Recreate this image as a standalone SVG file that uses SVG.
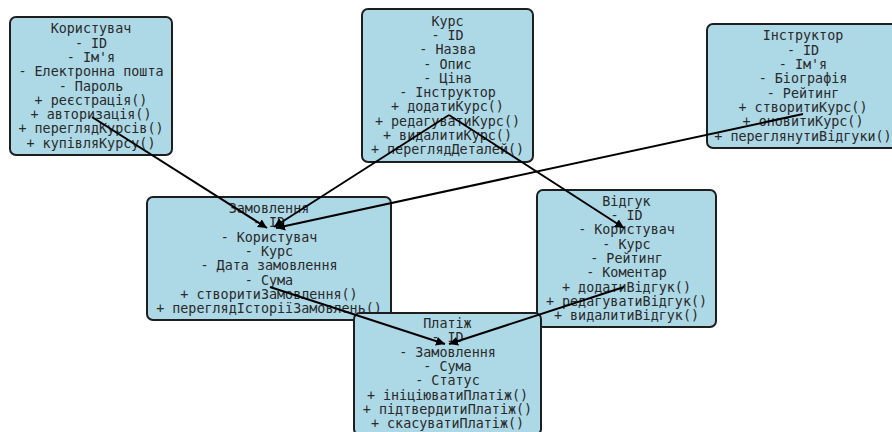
<svg xmlns="http://www.w3.org/2000/svg" width="892" height="432" viewBox="0 0 892 432">
<defs>
<style>
.box{fill:#add8e6;stroke:#1e1e1e;stroke-width:2}
.t{font-family:"DejaVu Sans Mono","Liberation Mono",monospace;font-size:13.4px;fill:#2a2a2a;text-anchor:middle}
.c{stroke:#000;stroke-width:2;fill:none;marker-end:url(#ah)}
</style>
<marker id="ah" viewBox="0 0 10 10" refX="10" refY="5" markerWidth="4.5" markerHeight="4.5" orient="auto" markerUnits="strokeWidth">
<path d="M0,0 L10,5 L0,10 z" fill="#000"/>
</marker>
</defs>
<rect width="892" height="432" fill="#fff"/>
<g id="korystuvach">
<rect class="box" x="10" y="17" width="162" height="138" rx="6"/>
<text class="t" y="33.3"><tspan x="91">Користувач</tspan><tspan x="91" dy="14.3">- ID</tspan><tspan x="91" dy="14.3">- Ім'я</tspan><tspan x="91" dy="14.3">- Електронна пошта</tspan><tspan x="91" dy="14.3">- Пароль</tspan><tspan x="91" dy="14.3">+ реєстрація()</tspan><tspan x="91" dy="14.3">+ авторизація()</tspan><tspan x="91" dy="14.3">+ переглядКурсів()</tspan><tspan x="91" dy="14.3">+ купівляКурсу()</tspan></text>
</g>
<g id="kurs">
<rect class="box" x="362" y="9" width="171" height="153" rx="6"/>
<text class="t" y="25.6"><tspan x="447.5">Курс</tspan><tspan x="447.5" dy="14.3">- ID</tspan><tspan x="447.5" dy="14.3">- Назва</tspan><tspan x="447.5" dy="14.3">- Опис</tspan><tspan x="447.5" dy="14.3">- Ціна</tspan><tspan x="447.5" dy="14.3">- Інструктор</tspan><tspan x="447.5" dy="14.3">+ додатиКурс()</tspan><tspan x="447.5" dy="14.3">+ редагуватиКурс()</tspan><tspan x="447.5" dy="14.3">+ видалитиКурс()</tspan><tspan x="447.5" dy="14.3">+ переглядДеталей()</tspan></text>
</g>
<g id="instruktor">
<rect class="box" x="707" y="24" width="190" height="124" rx="6"/>
<text class="t" y="40.4"><tspan x="803">Інструктор</tspan><tspan x="803" dy="14.3">- ID</tspan><tspan x="803" dy="14.3">- Ім'я</tspan><tspan x="803" dy="14.3">- Біографія</tspan><tspan x="803" dy="14.3">- Рейтинг</tspan><tspan x="803" dy="14.3">+ створитиКурс()</tspan><tspan x="803" dy="14.3">+ оновитиКурс()</tspan><tspan x="803" dy="14.3">+ переглянутиВідгуки()</tspan></text>
</g>
<g id="zamovlennia">
<rect class="box" x="147" y="197" width="244" height="123" rx="6"/>
<text class="t" y="213"><tspan x="269">Замовлення</tspan><tspan x="269" dy="14.3">- ID</tspan><tspan x="269" dy="14.3">- Користувач</tspan><tspan x="269" dy="14.3">- Курс</tspan><tspan x="269" dy="14.3">- Дата замовлення</tspan><tspan x="269" dy="14.3">- Сума</tspan><tspan x="269" dy="14.3">+ створитиЗамовлення()</tspan><tspan x="269" dy="14.3">+ переглядІсторіїЗамовлень()</tspan></text>
</g>
<g id="vidhuk">
<rect class="box" x="537" y="190" width="179" height="137" rx="6"/>
<text class="t" y="205.8"><tspan x="626.5">Відгук</tspan><tspan x="626.5" dy="14.3">- ID</tspan><tspan x="626.5" dy="14.3">- Користувач</tspan><tspan x="626.5" dy="14.3">- Курс</tspan><tspan x="626.5" dy="14.3">- Рейтинг</tspan><tspan x="626.5" dy="14.3">- Коментар</tspan><tspan x="626.5" dy="14.3">+ додатиВідгук()</tspan><tspan x="626.5" dy="14.3">+ редагуватиВідгук()</tspan><tspan x="626.5" dy="14.3">+ видалитиВідгук()</tspan></text>
</g>
<g id="platizh">
<rect class="box" x="354" y="313" width="187" height="122" rx="6"/>
<text class="t" y="328"><tspan x="447.5">Платіж</tspan><tspan x="447.5" dy="14.3">- ID</tspan><tspan x="447.5" dy="14.3">- Замовлення</tspan><tspan x="447.5" dy="14.3">- Сума</tspan><tspan x="447.5" dy="14.3">- Статус</tspan><tspan x="447.5" dy="14.3">+ ініціюватиПлатіж()</tspan><tspan x="447.5" dy="14.3">+ підтвердитиПлатіж()</tspan><tspan x="447.5" dy="14.3">+ скасуватиПлатіж()</tspan></text>
</g>
<g id="connectors">
<line class="c" x1="92" y1="117" x2="267" y2="228"/>
<line class="c" x1="449" y1="115" x2="274" y2="227"/>
<line class="c" x1="803" y1="114" x2="276" y2="228"/>
<line class="c" x1="449" y1="115" x2="624" y2="228"/>
<line class="c" x1="270" y1="287" x2="445" y2="344"/>
<line class="c" x1="624" y1="287" x2="449" y2="344"/>
</g>
</svg>
